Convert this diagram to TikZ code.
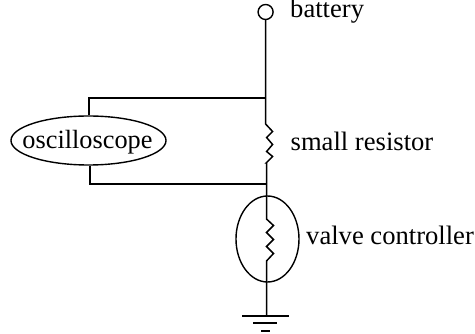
\documentclass[tikz,border=0pt]{standalone}
\usepackage{fontspec}
\setmainfont{Liberation Serif}
\usetikzlibrary{shapes.geometric}
\tikzset{
  wire/.style={line width=1.5pt,line join=miter},
  lab/.style={inner sep=0pt,anchor=base west,font=\fontsize{26.6}{28}\selectfont},
  ell/.style={draw,ellipse,line width=1.4pt,inner sep=0pt,minimum width=#1},
}
\begin{document}
\begin{tikzpicture}[x=1pt,y=-1pt]
\useasboundingbox (0,0) rectangle (475,334);
\node[draw,circle,line width=1.4pt,minimum size=15pt,inner sep=0pt] (term) at (265.6,12) {};
\coordinate (j1) at (265.6,98);
\coordinate (j2) at (266.5,184);
\coordinate (r1a) at (265.6,124);
\coordinate (r1b) at (266.5,163);
\coordinate (r2a) at (266.5,219);
\coordinate (r2b) at (266.5,261);
\coordinate (gnd) at (266.5,316);
\coordinate (tl) at (89,98);
\coordinate (bl) at (90,184);
\node[ell=155pt,minimum height=49pt] (osc) at (88.5,140.5) {};
\node[ell=63pt,minimum height=86pt] (vc) at (267.5,239) {};
\node[inner sep=0pt,font=\fontsize{26.3}{28}\selectfont] (osct) at (87.5,142) {oscilloscope};
\draw[wire] (term.south) -- (j1) -- (r1a)
  -- ++(7,7.5) -- ++(-6,6) -- ++(6,7) -- ++(-6,7) -- ++(6,5) -- ++(-6.5,6.5) -- (r1b) -- (j2) -- (vc.north -| j2) -- (r2a)
  -- ++(7,6.5) -- ++(-7,7) -- ++(7,7) -- ++(-7,7) -- ++(7,7) -- ++(-7,7.5) -- (r2b) -- (gnd);
\draw[wire] (osc.north -| tl) -- (tl) -- (j1);
\draw[wire] (osc.south -| bl) -- (bl) -- (j2);
\coordinate (g1l) at (242,316); \coordinate (g1r) at (289,316);
\coordinate (g2l) at (253,323); \coordinate (g2r) at (277,323);
\coordinate (g3l) at (261,331); \coordinate (g3r) at (270,331);
\draw[wire] (g1l) -- (g1r);
\draw[wire] (g2l) -- (g2r);
\draw[wire] (g3l) -- (g3r);
\node[lab] (lb) at (290,18) {battery};
\node[lab] (lr) at (290.5,151) {small resistor};
\node[lab] (lv) at (306,245) {valve controller};
\end{tikzpicture}
\end{document}
